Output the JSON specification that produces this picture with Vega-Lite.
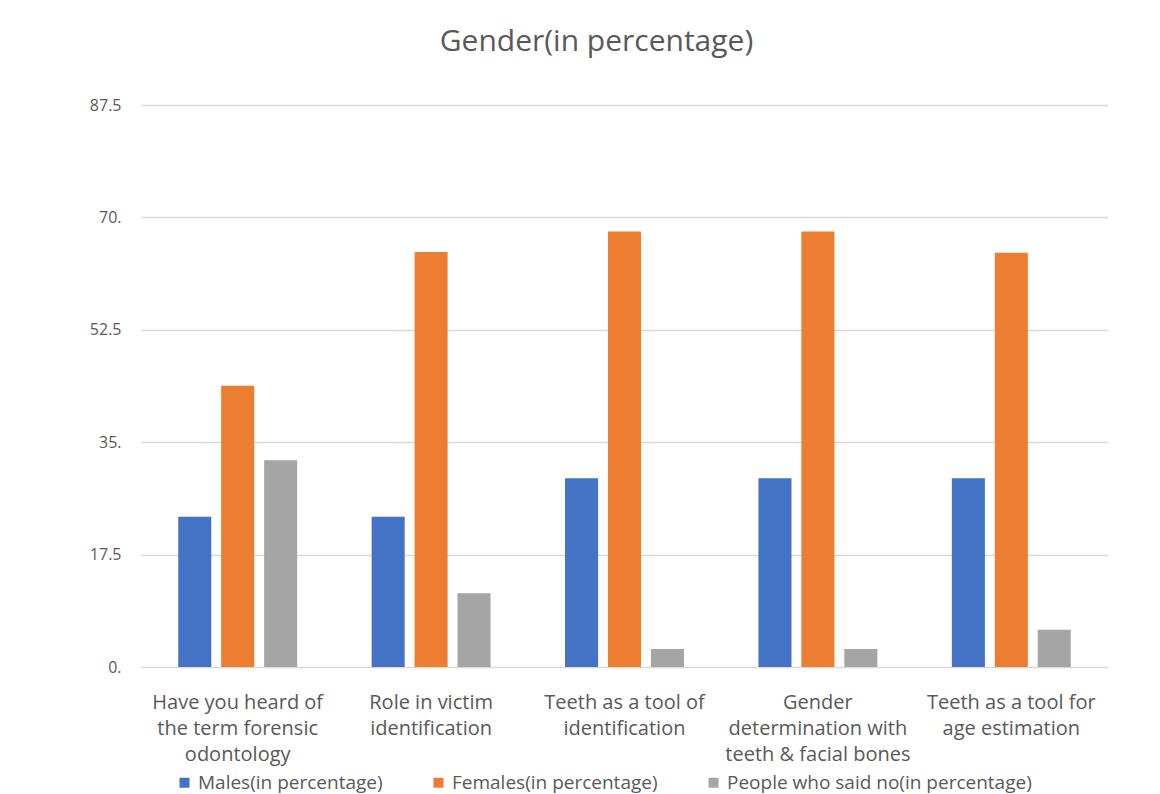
{
  "$schema": "https://vega.github.io/schema/vega-lite/v6.json",
  "width": 967,
  "height": 562,
  "autosize": {"type": "none"},
  "padding": {"left": 141, "top": 105, "right": 52, "bottom": 127},
  "background": "white",
  "title": {
    "text": "Gender(in percentage)",
    "fontSize": 30,
    "font": "Open Sans",
    "fontWeight": "normal",
    "color": "#595959",
    "offset": 40,
    "dx": -28
  },
  "data": {
    "values": [
      {"q": "Have you heard of|the term forensic|odontology", "series": "Males(in percentage)", "value": 23.4},
      {"q": "Have you heard of|the term forensic|odontology", "series": "Females(in percentage)", "value": 43.8},
      {"q": "Have you heard of|the term forensic|odontology", "series": "People who said no(in percentage)", "value": 32.2},
      {"q": "Role in victim|identification", "series": "Males(in percentage)", "value": 23.4},
      {"q": "Role in victim|identification", "series": "Females(in percentage)", "value": 64.6},
      {"q": "Role in victim|identification", "series": "People who said no(in percentage)", "value": 11.5},
      {"q": "Teeth as a tool of|identification", "series": "Males(in percentage)", "value": 29.4},
      {"q": "Teeth as a tool of|identification", "series": "Females(in percentage)", "value": 67.8},
      {"q": "Teeth as a tool of|identification", "series": "People who said no(in percentage)", "value": 2.8},
      {"q": "Gender|determination with|teeth & facial bones", "series": "Males(in percentage)", "value": 29.4},
      {"q": "Gender|determination with|teeth & facial bones", "series": "Females(in percentage)", "value": 67.8},
      {"q": "Gender|determination with|teeth & facial bones", "series": "People who said no(in percentage)", "value": 2.8},
      {"q": "Teeth as a tool for|age estimation", "series": "Males(in percentage)", "value": 29.4},
      {"q": "Teeth as a tool for|age estimation", "series": "Females(in percentage)", "value": 64.5},
      {"q": "Teeth as a tool for|age estimation", "series": "People who said no(in percentage)", "value": 5.8}
    ]
  },
  "mark": {"type": "bar"},
  "encoding": {
    "x": {
      "field": "q",
      "type": "nominal",
      "sort": null,
      "title": null,
      "scale": {"paddingInner": 0.334, "paddingOuter": 0.167},
      "axis": {
        "labelExpr": "split(datum.label, '|')",
        "labelAngle": 0,
        "labelFont": "Open Sans",
        "labelFontSize": 20,
        "labelColor": "#595959",
        "labelLineHeight": 26,
        "labelBaseline": "top",
        "labelPadding": 25,
        "ticks": false,
        "domain": false,
        "labelLimit": 400
      }
    },
    "xOffset": {
      "field": "series",
      "type": "nominal",
      "sort": null,
      "scale": {"paddingInner": 0.23, "paddingOuter": 0.115}
    },
    "y": {
      "field": "value",
      "type": "quantitative",
      "title": null,
      "scale": {"domain": [0, 87.5], "nice": false},
      "axis": {
        "values": [0, 17.5, 35, 52.5, 70, 87.5],
        "labelExpr": "datum.value % 1 == 0 ? format(datum.value, 'd') + '.' : format(datum.value, '.1f')",
        "labelFont": "Open Sans",
        "labelFontSize": 16,
        "labelColor": "#595959",
        "labelPadding": 20,
        "ticks": false,
        "domain": false,
        "grid": true,
        "gridColor": "#d9d9d9",
        "gridWidth": 1.5
      }
    },
    "color": {
      "field": "series",
      "type": "nominal",
      "sort": null,
      "scale": {
        "domain": ["Males(in percentage)", "Females(in percentage)", "People who said no(in percentage)"],
        "range": ["#4472C4", "#ED7D31", "#A5A5A5"]
      },
      "legend": {
        "title": null,
        "orient": "none",
        "direction": "horizontal",
        "legendX": 34,
        "legendY": 668,
        "symbolType": "square",
        "symbolSize": 100,
        "labelFont": "Open Sans",
        "labelFontSize": 19,
        "labelColor": "#595959",
        "columnPadding": 46,
        "labelLimit": 400
      }
    }
  },
  "config": {"view": {"stroke": null}}
}
